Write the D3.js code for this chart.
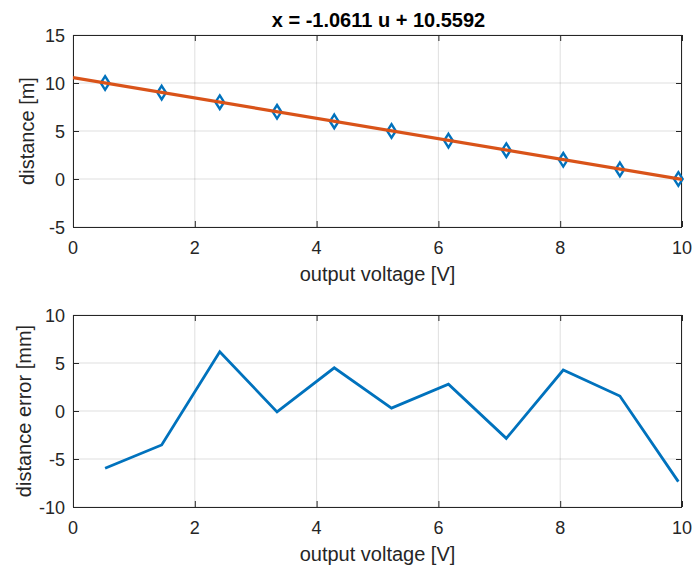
<!DOCTYPE html>
<html><head><meta charset="utf-8">
<script src="https://cdn.jsdelivr.net/npm/d3@7"></script>
<style>body{margin:0;background:#fff;} svg{display:block;font-family:"Liberation Sans",Arial,Helvetica,sans-serif;}</style>
</head><body>
<script>
// data
const voltage = [0.527, 1.456, 2.41, 3.35, 4.29, 5.23, 6.165, 7.115, 8.05, 8.98, 9.94];
const distance = [10, 9, 8, 7, 6, 5, 4, 3, 2, 1, 0];
const errorMM = [-5.97, -3.54, 6.18, -0.1, 4.5, 0.3, 2.8, -2.85, 4.27, 1.56, -7.36];
const fitSlope = -1.0611, fitIntercept = 10.5592;
const xTicks = [0, 2, 4, 6, 8, 10];
const yTicksTop = [-5, 0, 5, 10, 15];
const yTicksBottom = [-10, -5, 0, 5, 10];
const titleText = "x = -1.0611 u + 10.5592";

const W = 692, H = 567;
const svg = d3.select("body").append("svg").attr("width", W).attr("height", H);
const L = 73, R = 682;
const axisColor = "#262626";
const blue = "#0072BD", orange = "#D95319";
const FONT = '"Liberation Sans",Arial,sans-serif';

function panel(top, bottom, ydom, yticks, ylabel) {
  const x = d3.scaleLinear().domain([0, 10]).range([L, R]);
  const y = d3.scaleLinear().domain(ydom).range([bottom, top]);
  const g = svg.append("g");
  // grid
  g.selectAll(".gx").data(xTicks).join("line")
    .attr("x1", d => x(d)).attr("x2", d => x(d)).attr("y1", top).attr("y2", bottom)
    .attr("stroke", "#262626").attr("stroke-opacity", 0.15).attr("stroke-width", 1);
  g.selectAll(".gy").data(yticks).join("line")
    .attr("y1", d => y(d)).attr("y2", d => y(d)).attr("x1", L).attr("x2", R)
    .attr("stroke", "#262626").attr("stroke-opacity", 0.15).attr("stroke-width", 1);
  // axes (inward ticks)
  const tl = 6;
  const ax = g.append("g").attr("transform", `translate(0,${bottom})`)
    .call(d3.axisBottom(x).tickValues(xTicks).tickSizeInner(-tl).tickSizeOuter(0).tickFormat(""));
  const axTop = g.append("g").attr("transform", `translate(0,${top})`)
    .call(d3.axisTop(x).tickValues(xTicks).tickSizeInner(-tl).tickSizeOuter(0).tickFormat(""));
  const ay = g.append("g").attr("transform", `translate(${L},0)`)
    .call(d3.axisLeft(y).tickValues(yticks).tickSizeInner(-tl).tickSizeOuter(0).tickFormat(""));
  const ayR = g.append("g").attr("transform", `translate(${R},0)`)
    .call(d3.axisRight(y).tickValues(yticks).tickSizeInner(-tl).tickSizeOuter(0).tickFormat(""));
  [ax, axTop, ay, ayR].forEach(a => {
    a.select(".domain").remove();
    a.selectAll("line").attr("stroke", axisColor);
  });
  // tick labels
  g.selectAll(".xl").data(xTicks).join("text")
    .attr("x", d => x(d)).attr("y", bottom + 27).attr("text-anchor", "middle")
    .attr("fill", axisColor).style("font-size", "18px").style("font-family", FONT).text(d => d);
  g.selectAll(".yl").data(yticks).join("text")
    .attr("x", L - 8).attr("y", d => y(d) + 6.5).attr("text-anchor", "end")
    .attr("fill", axisColor).style("font-size", "18px").style("font-family", FONT).text(d => d);
  g.append("rect").attr("x", L + 0.5).attr("y", top + 0.5).attr("width", R - L - 1).attr("height", bottom - top)
    .attr("fill", "none").attr("stroke", axisColor).attr("stroke-width", 1);
  // labels
  g.append("text").attr("x", (L + R) / 2).attr("y", bottom + 54).attr("text-anchor", "middle")
    .attr("fill", axisColor).style("font-size", "20px").text("output voltage [V]");
  g.append("text").attr("transform", `translate(${ylabel.x},${(top + bottom) / 2}) rotate(-90)`)
    .attr("text-anchor", "middle").attr("fill", axisColor).style("font-size", "20px").text(ylabel.text);
  return {x, y, g};
}

// top panel
const p1 = panel(35, 227, [-5, 15], yTicksTop, {x: 34, text: "distance [m]"});
const pts = voltage.map((v, i) => ({v, d: distance[i]}));
svg.append("clipPath").attr("id", "c1").append("rect").attr("x", L).attr("y", 35).attr("width", R - L).attr("height", 192);
p1.g.selectAll(".mk").data(pts).join("path")
  .attr("d", d => { const cx = p1.x(d.v), cy = p1.y(d.d), a = 4.3, b = 6.8;
    return `M${cx},${cy - b}L${cx + a},${cy}L${cx},${cy + b}L${cx - a},${cy}Z`; })
  .attr("fill", "none").attr("stroke", blue).attr("stroke-width", 2.4);
const fitLine = d3.line().x(u => p1.x(u)).y(u => p1.y(fitSlope * u + fitIntercept));
p1.g.append("path").attr("d", fitLine([0, 10])).attr("fill", "none").attr("stroke", orange)
  .attr("stroke-width", 3.2).attr("clip-path", "url(#c1)");
svg.append("text").attr("x", (L + R) / 2 + 1).attr("y", 27).attr("text-anchor", "middle")
  .attr("fill", "#000").style("font-size", "20px").style("font-weight", "bold").text(titleText);

// bottom panel
const p2 = panel(315, 507, [-10, 10], yTicksBottom, {x: 31, text: "distance error [mm]"});
const errLine = d3.line().x((d, i) => p2.x(voltage[i])).y(d => p2.y(d));
p2.g.append("path").attr("d", errLine(errorMM)).attr("fill", "none").attr("stroke", blue)
  .attr("stroke-width", 2.8).attr("stroke-linejoin", "miter");
</script>
</body></html>
